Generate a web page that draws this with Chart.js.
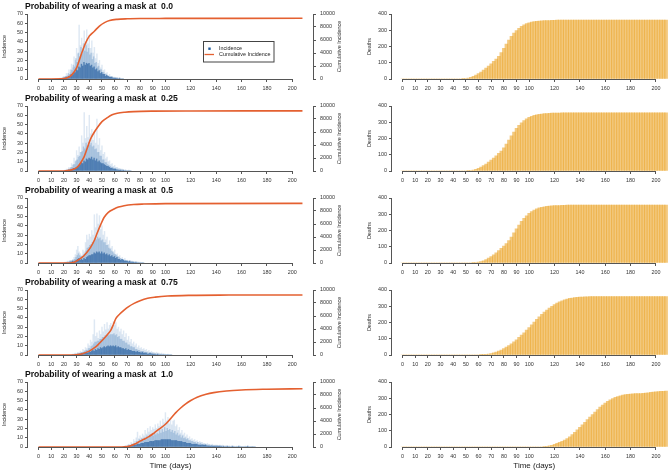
<!DOCTYPE html>
<html>
<head>
<meta charset="utf-8">
<script src="https://cdn.jsdelivr.net/npm/chart.js@4.4.1/dist/chart.umd.min.js"></script>
<style>
  html, body { margin: 0; padding: 0; background: #fff; }
  #wrap { position: relative; width: 669px; height: 472px; overflow: hidden; background: #fff; }
  canvas { position: absolute; }
</style>
</head>
<body>
<div id="wrap"></div>
<script>
// mask wearing probability for each row
const maskProbs = ["0.0", "0.25", "0.5", "0.75", "1.0"]
const xTicks = [0, 10, 20, 30, 40, 50, 60, 70, 80, 90, 100, 120, 140, 160, 180, 200]

// daily incidence, three overlaid runs per panel, first value is at incStart day
const incStart = [16, 20, 20, 26, 66]

const incA0 = [0,1,0,2,3,2,6,4,10,7, 16,12,24,20,33,27,58,36,44,33, 52,40,53,38,47,33,41,28,34,22, 27,17,20,12,15,9,10,6,7,4, 5,3,3,2,2,1,1,0,1,0, 0]
const incB0 = [0,0,1,1,2,3,3,6,5,10, 9,15,13,22,18,28,24,34,27,38, 30,36,29,33,26,28,21,24,17,18, 13,14,10,10,7,7,5,5,3,3, 2,2,1,1,1,0,1,0,0,0, 0]
const incC0 = [0,0,0,1,1,2,1,3,3,5, 4,7,7,10,9,13,12,16,14,18, 15,17,16,17,14,15,12,13,10,11, 8,9,6,7,5,5,3,4,3,2, 2,2,1,1,1,1,0,1,0,0, 0]

const incA1 = [0,1,2,1,4,3,8,6,14,10, 22,17,26,20,38,30,63,35,48,36, 60,40,45,33,42,30,56,28,35,22, 27,18,20,13,15,10,11,7,8,5, 6,4,4,3,3,2,2,1,1,1, 0,1,0]
const incB1 = [0,0,1,2,2,4,4,7,7,11, 12,15,16,20,21,26,24,30,27,31, 28,30,26,27,23,24,20,20,16,16, 12,12,9,9,7,6,5,4,4,3, 3,2,2,1,1,1,1,0,1,0, 0,0,0]
const incC1 = [0,0,0,1,1,1,2,3,3,4, 5,6,7,9,8,11,10,13,12,14, 13,15,12,14,11,13,10,11,9,8, 8,7,6,5,5,4,3,3,2,2, 2,1,1,1,1,0,1,0,0,0, 0,0,0]

const incA2 = [0,1,1,2,1,3,2,4,6,9, 14,18,12,10,8,14,12,22,30,25, 31,28,35,30,52,38,53,42,51,36, 40,30,34,25,28,20,24,16,18,12, 14,9,10,7,8,5,6,4,5,3, 3,2,3,2,2,1,1,1,1,0, 1,0,0]
const incB2 = [0,0,1,1,2,2,3,3,4,6, 8,10,8,7,7,9,10,13,16,17, 19,20,22,23,26,25,28,26,27,24, 25,22,22,19,19,16,15,13,12,10, 9,8,7,6,5,4,4,3,3,2, 2,2,1,1,1,1,1,0,1,0, 0,0,0]
const incC2 = [0,0,0,0,1,1,2,1,2,3, 4,5,3,4,3,5,4,6,7,8, 8,9,9,11,10,12,11,12,10,12, 10,11,9,10,8,9,7,8,6,7, 5,6,4,4,3,4,3,2,2,2, 1,2,1,1,1,0,1,0,0,0, 0,0,0]

const incA3 = [0,1,1,2,1,3,2,4,3,6, 5,8,7,12,10,16,14,22,38,20, 24,18,26,22,30,25,33,27,35,28, 32,34,30,36,32,35,28,30,25,28, 22,26,19,23,16,20,14,17,12,14, 10,12,8,10,7,8,6,7,5,6, 4,5,3,4,3,3,2,3,2,2, 1,2,1,1,1,0,1,0,0]
const incB3 = [0,0,1,1,1,1,2,2,3,3, 4,5,5,7,7,9,10,12,14,14, 15,15,17,17,19,19,21,20,22,21, 22,22,22,23,21,22,19,20,17,17, 15,15,13,13,11,11,9,9,8,8, 6,6,5,5,4,4,4,3,3,3, 2,2,2,2,1,1,1,1,1,1, 1,0,1,0,0,0,0,0,0]
const incC3 = [0,0,0,0,1,1,1,2,1,2, 2,3,2,4,3,4,5,4,6,5, 7,6,8,7,8,9,8,9,10,9, 10,9,10,9,10,8,9,8,8,7, 7,6,7,5,6,5,5,4,4,4, 3,4,3,3,2,3,2,2,2,1, 1,2,1,1,1,1,0,1,0,0, 0,0,0,0,0,0,0,0,0]

const incA4 = [0,0,1,1,2,3,2,5,4,8, 6,10,16,9,12,10,14,12,18,14, 20,16,22,18,21,19,24,20,25,22, 28,23,30,26,37,28,32,25,30,24, 28,29,22,24,18,21,15,18,13,15, 11,13,9,11,8,9,7,8,6,7, 5,6,5,5,4,4,3,4,3,3, 2,3,2,2,2,2,1,2,1,2, 1,1,1,1,1,0,1,0,1,0, 1,0,0,1,0,0,0,1,0,0, 0,0,0,0,0]
const incB4 = [0,0,1,0,1,2,1,3,2,4, 3,6,5,8,6,9,7,10,8,12, 9,13,11,14,12,16,13,15,14,18, 15,19,16,21,17,20,18,19,16,18, 15,17,13,15,12,13,10,12,9,10, 8,9,7,7,6,6,5,5,4,5, 3,4,3,3,2,3,2,2,2,1, 2,1,1,1,1,1,1,0,1,0, 0,1,0,0,1,0,0,0,0,0, 0,0,0,0,0,0,0,0,0,0, 0,0,0,0,0]
const incC4 = [0,0,0,0,1,1,1,1,2,2, 2,3,3,3,4,4,4,5,5,5, 5,6,6,6,6,7,7,7,7,7, 8,8,8,8,8,8,8,8,7,7, 7,7,7,6,6,6,6,5,5,5, 4,4,4,4,3,3,3,3,3,2, 2,2,2,2,2,2,1,1,1,1, 1,1,1,1,1,1,1,1,0,1, 0,0,1,0,0,0,1,0,0,0, 0,1,0,0,0,0,0,0,1,0, 0,0,0,0,0]

// cumulative incidence (right axis), read at chosen days
const cumDay0 = [0, 10, 18, 22, 26, 30, 33, 37, 40, 44, 48, 52, 56, 62, 70, 80, 100, 140, 208]
const cumInc0 = [0, 0, 20, 150, 600, 1700, 3400, 5500, 6600, 7350, 8150, 8680, 9000, 9180, 9260, 9300, 9320, 9330, 9340]
const cumDay1 = [0, 20, 24, 28, 30.6, 33, 35.8, 38, 41, 44, 46.4, 50, 54.3, 58, 62, 68, 75, 90, 120, 208]
const cumInc1 = [0, 0, 100, 300, 610, 1200, 2130, 3300, 4930, 6000, 6700, 7600, 8220, 8650, 8890, 9050, 9140, 9210, 9240, 9250]
const cumDay2 = [0, 24, 27, 29, 32, 35.8, 38, 41, 44, 46.4, 49, 51.6, 55, 59.5, 63, 67.4, 75, 83, 100, 208]
const cumInc2 = [0, 0, 80, 200, 550, 1120, 1600, 2400, 3500, 4700, 5900, 7000, 7800, 8300, 8600, 8820, 9000, 9070, 9140, 9170]
const cumDay3 = [0, 28, 31, 34.5, 40, 45, 48, 51.6, 55, 57, 59, 61, 64, 67.4, 71, 75.3, 80, 86, 92, 101.7, 120, 150, 208]
const cumInc3 = [0, 0, 60, 200, 600, 1240, 1800, 2530, 3300, 3820, 4700, 5630, 6300, 6910, 7450, 7940, 8350, 8720, 8900, 9070, 9180, 9220, 9240]
const cumDay4 = [0, 64, 68, 72, 76, 80, 83, 87, 91, 95, 100, 104, 108, 112, 116, 120, 125, 132, 138, 148, 160, 180, 208]
const cumInc4 = [0, 0, 30, 150, 450, 900, 1180, 1600, 2150, 2750, 3500, 4350, 5250, 6000, 6650, 7150, 7650, 8100, 8360, 8620, 8780, 8890, 8970]

// cumulative deaths every 2 days, day 0 to 208
const deaths0 = [0,0,0,0,0,0,0,0,0,0, 0,0,0,0,0,0,0,0,0,0, 0,0,0,0,
  1,3,6,10,16,24,33,43,55,67, 80,94,108,122,140,162,188,215,240,262, 282,298,312,324,334,341,346,350,353,355, 357,358,359,360,360,361,361,
  362,362,362,362,362,362,362,362,362,362, 362,362,362,362,362,362,362,362,362,362, 362,362,362,362,362,362,362,362,362,362, 362,362,362,362,362,362,362,362,362,362, 362,362,362,362]
const deaths1 = [0,0,0,0,0,0,0,0,0,0, 0,0,0,0,0,0,0,0,0,0, 0,0,0,0,0,0,
  1,3,6,10,16,24,33,43,55,67, 80,94,108,123,142,165,190,216,240,262, 281,297,310,321,330,337,342,346,349,351, 353,354,355,356,356,357,357,
  358,358,358,358,358,358,358,358,358,358, 358,358,358,358,358,358,358,358,358,358, 358,358,358,358,358,358,358,358,358,358, 358,358,358,358,358,358,358,358,358,358, 358,358]
const deaths2 = [0,0,0,0,0,0,0,0,0,0, 0,0,0,0,0,0,0,0,0,0, 0,0,0,0,0,0,0,0,
  1,3,5,9,14,21,30,40,51,63, 76,90,104,120,138,160,185,210,234,256, 275,291,305,316,326,333,339,343,346,349, 351,352,353,354,354,355,355,
  356,356,356,356,356,356,356,356,356,356, 356,356,356,356,356,356,356,356,356,356, 356,356,356,356,356,356,356,356,356,356, 356,356,356,356,356,356,356,356,356,356]
const deaths3 = [0,0,0,0,0,0,0,0,0,0, 0,0,0,0,0,0,0,0,0,0, 0,0,0,0,0,0,0,0,0,0, 0,
  1,2,4,6,9,13,18,24,31,39, 48,58,69,81,94,108,122,137,153,169, 186,203,219,235,250,264,277,289,300,310, 319,327,334,339,344,348,351,353,355,356, 357,358,358,359,359,
  360,360,360,360,360,360,360,360,360,360, 360,360,360,360,360,360,360,360,360,360, 360,360,360,360,360,360,360,360,360]
const deaths4 = [0,0,0,0,0,0,0,0,0,0, 0,0,0,0,0,0,0,0,0,0, 0,0,0,0,0,0,0,0,0,0, 0,0,0,0,0,0,0,0,0,0, 0,0,0,0,0,0,0,0,0,0, 0,0,0,0,0,0,
  2,4,7,11,16,22,28,35,43,52, 63,76,91,106,121,136,152,168,184,199, 215,230,245,258,270,281,290,298,305,310, 315,319,322,324,326,327,328,328,329,330, 332,334,336,338,340,341,342,343,344]

const incRunA = [incA0, incA1, incA2, incA3, incA4]
const incRunB = [incB0, incB1, incB2, incB3, incB4]
const incRunC = [incC0, incC1, incC2, incC3, incC4]
const cumDays = [cumDay0, cumDay1, cumDay2, cumDay3, cumDay4]
const cumIncs = [cumInc0, cumInc1, cumInc2, cumInc3, cumInc4]
const deathRuns = [deaths0, deaths1, deaths2, deaths3, deaths4]
const deathDays = deaths0.map((v, k) => k * 2)

const fontFam = "'Liberation Sans', Arial, Helvetica, sans-serif"
const tickFont = { family: fontFam, size: 5.4 }
const rowH = 92

const wrap = document.getElementById('wrap')
function makeCanvas(left, top, w, h) {
    const c = document.createElement('canvas')
    c.width = w
    c.height = h
    c.style.left = left + 'px'
    c.style.top = top + 'px'
    c.style.width = w + 'px'
    c.style.height = h + 'px'
    wrap.appendChild(c)
    return c.getContext('2d')
}

function rotText(ctx, text, x, y) {
    ctx.save()
    ctx.translate(x, y)
    ctx.rotate(-Math.PI / 2)
    ctx.textAlign = 'center'
    ctx.textBaseline = 'middle'
    ctx.fillText(text, 0, 0)
    ctx.restore()
}

// R style axes: axis line only from first to last tick, plus titles and legend
const rStyle = {
    id: 'rStyle',
    afterDraw(chart, args, o) {
        const ctx = chart.ctx
        const a = chart.chartArea
        const sx = chart.scales.x
        const sy = chart.scales.y
        ctx.save()
        ctx.strokeStyle = '#555'
        ctx.lineWidth = 1
        ctx.beginPath()
        const yb = Math.round(a.bottom) + 0.5
        ctx.moveTo(sx.getPixelForValue(0), yb)
        ctx.lineTo(sx.getPixelForValue(200), yb)
        const xl = Math.round(a.left) - 0.5
        ctx.moveTo(xl, sy.getPixelForValue(sy.min))
        ctx.lineTo(xl, sy.getPixelForValue(sy.max))
        const s2 = chart.scales.y2
        if (s2) {
            const xr = Math.round(a.right) + 0.5
            ctx.moveTo(xr, s2.getPixelForValue(s2.min))
            ctx.lineTo(xr, s2.getPixelForValue(s2.max))
        }
        ctx.stroke()

        if (o.title) {
            ctx.fillStyle = '#111'
            ctx.font = 'bold 8.6px ' + fontFam
            ctx.textAlign = 'left'
            ctx.textBaseline = 'alphabetic'
            ctx.fillText(o.title, 25, 8.8)
        }
        ctx.fillStyle = '#333'
        ctx.font = '5.4px ' + fontFam
        const cy = (a.top + a.bottom) / 2
        rotText(ctx, o.yTitle, o.yTitleX, cy)
        if (o.y2Title) rotText(ctx, o.y2Title, o.y2TitleX, cy)

        if (o.legend) {
            ctx.fillStyle = '#fff'
            ctx.fillRect(203.5, 41.5, 70.5, 20.5)
            ctx.strokeStyle = '#444'
            ctx.strokeRect(203.5, 41.5, 70.5, 20.5)
            ctx.fillStyle = 'rgb(30,90,155)'
            ctx.fillRect(208.3, 47.5, 2.4, 2.4)
            ctx.strokeStyle = 'rgb(228,96,48)'
            ctx.lineWidth = 1.3
            ctx.beginPath()
            ctx.moveTo(204.5, 54.5)
            ctx.lineTo(214, 54.5)
            ctx.stroke()
            ctx.fillStyle = '#222'
            ctx.textAlign = 'left'
            ctx.textBaseline = 'middle'
            ctx.fillText('Incidence', 219, 48.5)
            ctx.fillText('Cumulative Incidence', 219, 54.8)
        }

        if (o.xTitle) {
            ctx.fillStyle = '#222'
            ctx.font = '8px ' + fontFam
            ctx.textAlign = 'center'
            ctx.textBaseline = 'middle'
            ctx.fillText(o.xTitle, (a.left + a.right) / 2, 97.5)
        }
        ctx.restore()
    }
}

function xScale(bottomSpace) {
    return {
        type: 'linear',
        min: -8.3,
        max: 216.3,
        offset: false,
        afterBuildTicks: s => { s.ticks = xTicks.map(v => ({ value: v })) },
        afterFit: s => { s.height = bottomSpace },
        ticks: { font: tickFont, color: '#333', padding: 3, maxRotation: 0, minRotation: 0, autoSkip: false },
        grid: { display: true, drawOnChartArea: false, drawTicks: true, tickLength: 3, color: '#555', offset: false },
        border: { display: false }
    }
}

function yScale(pos, max, step, width, pad) {
    return {
        type: 'linear',
        position: pos,
        min: 0,
        max: max,
        afterFit: s => { s.width = width },
        ticks: { font: tickFont, color: '#333', padding: pad, stepSize: step, autoSkip: false, callback: v => String(v) },
        grid: { display: true, drawOnChartArea: false, drawTicks: true, tickLength: 3, color: '#555' },
        border: { display: false }
    }
}

function incidenceChart(i) {
    const h = i === 4 ? 104 : rowH
    const ctx = makeCanvas(0, rowH * i, 345, h)
    const start = incStart[i]
    const runs = [incRunA[i], incRunB[i], incRunC[i]]
    const shifts = [0, 0.45, 0.8]
    const colors = ['rgba(60,120,185,0.17)', 'rgba(40,105,170,0.26)', 'rgba(20,75,140,0.62)']
    const datasets = runs.map((run, r) => ({
        type: 'bar',
        data: run.map((v, k) => ({ x: start + k + shifts[r], y: v })),
        backgroundColor: colors[r],
        barThickness: 0.8,
        grouped: false,
        yAxisID: 'y',
        order: 2
    }))
    datasets.push({
        type: 'line',
        data: cumDays[i].map((d, k) => ({ x: d, y: cumIncs[i][k] })),
        yAxisID: 'y2',
        borderColor: 'rgb(228,96,48)',
        borderWidth: 1.6,
        pointRadius: 0,
        cubicInterpolationMode: 'monotone',
        order: 0
    })
    new Chart(ctx, {
        type: 'bar',
        data: { datasets },
        options: {
            responsive: false,
            animation: false,
            devicePixelRatio: 1,
            layout: { padding: { top: 14 } },
            scales: {
                x: xScale(h - 79),
                y: yScale('left', 70, 10, 28, 2),
                y2: yScale('right', 10000, 2000, 32, 4)
            },
            plugins: {
                legend: { display: false },
                tooltip: { enabled: false },
                rStyle: {
                    title: 'Probability of wearing a mask at  ' + maskProbs[i],
                    yTitle: 'Incidence', yTitleX: 5,
                    y2Title: 'Cumulative Incidence', y2TitleX: 340,
                    legend: i === 0,
                    xTitle: i === 4 ? 'Time (days)' : ''
                }
            }
        },
        plugins: [rStyle]
    })
}

function deathsChart(i) {
    const h = i === 4 ? 104 : rowH
    const ctx = makeCanvas(340, rowH * i, 345, h)
    new Chart(ctx, {
        type: 'bar',
        data: {
            datasets: [{
                data: deathRuns[i].map((v, k) => ({ x: deathDays[k], y: v })),
                backgroundColor: 'rgba(236,168,48,0.62)',
                barThickness: 3,
                grouped: false
            }]
        },
        options: {
            responsive: false,
            animation: false,
            devicePixelRatio: 1,
            layout: { padding: { top: 14, right: 8.4 } },
            scales: {
                x: xScale(h - 79),
                y: yScale('left', 400, 100, 52, 2)
            },
            plugins: {
                legend: { display: false },
                tooltip: { enabled: false },
                rStyle: {
                    yTitle: 'Deaths', yTitleX: 30,
                    xTitle: i === 4 ? 'Time (days)' : ''
                }
            }
        },
        plugins: [rStyle]
    })
}

for (let i = 0; i < 5; i++) {
    incidenceChart(i)
    deathsChart(i)
}
</script>
</body>
</html>
